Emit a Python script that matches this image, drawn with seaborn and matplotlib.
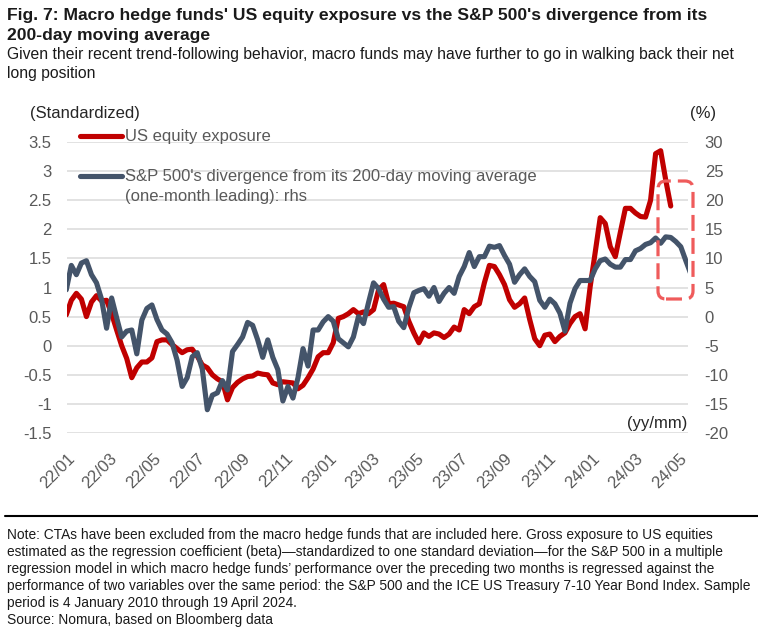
import numpy as np
import pandas as pd
import matplotlib
matplotlib.use("Agg")
import matplotlib.pyplot as plt
from matplotlib.patches import FancyBboxPatch
from matplotlib.lines import Line2D
from matplotlib.transforms import IdentityTransform
from matplotlib import font_manager as fm
import seaborn as sns

# ---------------- data ----------------
start_date = "2021-12-31"   # weekly observations (Fridays)

us_equity_exposure = [
    0.53, 0.78, 0.90, 0.80, 0.50, 0.75, 0.86, 0.77, 0.78, 0.55,
    0.27, 0.00, -0.22, -0.55, -0.38, -0.28, -0.28, -0.21, 0.07, 0.10,
    0.10, 0.02, -0.05, -0.12, -0.07, -0.06, -0.18, -0.33, -0.38, -0.50,
    -0.57, -0.62, -0.93, -0.72, -0.63, -0.57, -0.53, -0.52, -0.47, -0.49,
    -0.50, -0.64, -0.67, -0.62, -0.63, -0.64, -0.74, -0.68, -0.55, -0.40,
    -0.19, -0.12, -0.12, 0.05, 0.47, 0.50, 0.55, 0.62, 0.55, 0.58,
    0.55, 0.62, 0.96, 1.05, 0.72, 0.73, 0.70, 0.67, 0.42, 0.22,
    0.05, 0.22, 0.16, 0.22, 0.20, 0.14, 0.20, 0.32, 0.27, 0.62,
    0.55, 0.67, 0.72, 1.08, 1.38, 1.36, 1.22, 1.05, 0.79, 0.66,
    0.72, 0.82, 0.45, 0.12, 0.00, 0.18, 0.20, 0.07, 0.16, 0.22,
    0.38, 0.50, 0.55, 0.29, 1.01, 1.60, 2.20, 2.10, 1.70, 1.53,
    1.95, 2.36, 2.36, 2.28, 2.22, 2.21, 2.50, 3.30, 3.35, 2.85,
    2.40,
]

spx_divergence_pct = [
    4.6, 8.8, 7.2, 9.2, 9.6, 7.2, 5.8, 3.0, -2.0, 3.2,
    -0.2, -3.5, -2.5, -2.3, -6.4, -0.6, 1.4, 2.0, -0.5, -2.3,
    -3.0, -4.5, -7.5, -12.0, -10.5, -6.9, -6.2, -9.0, -16.0, -13.5,
    -13.1, -11.0, -12.6, -6.0, -4.8, -3.5, -1.0, -1.5, -4.0, -7.0,
    -4.0, -7.0, -9.1, -14.5, -12.0, -14.0, -10.5, -5.5, -8.5, -2.3,
    -2.3, -0.9, 0.0, -0.8, -3.8, -4.5, -5.2, -3.5, 0.0, -1.2,
    2.4, 5.8, 4.8, 3.0, 1.6, 1.7, -0.8, -1.9, 1.5, 4.1,
    4.5, 4.8, 3.5, 5.0, 2.6, 4.0, 5.0, 4.0, 6.9, 8.6,
    11.0, 8.6, 10.3, 10.3, 12.1, 11.9, 12.2, 10.5, 9.0, 5.9,
    7.2, 8.2, 6.9, 6.0, 2.8, 1.6, 3.0, 2.2, 0.6, -2.5,
    2.3, 4.8, 6.2, 6.2, 6.2, 8.2, 9.6, 9.9, 9.0, 8.5,
    8.5, 9.8, 9.8, 11.3, 11.7, 12.4, 12.7, 13.5, 12.6, 13.7,
    13.6, 12.9, 12.0, 9.6, 7.3,
]

tick_dates = ["2022-01-01", "2022-03-01", "2022-05-01", "2022-07-01", "2022-09-01",
              "2022-11-01", "2023-01-01", "2023-03-01", "2023-05-01", "2023-07-01",
              "2023-09-01", "2023-11-01", "2024-01-01", "2024-03-01", "2024-05-01"]
tick_labels = ["22/01", "22/03", "22/05", "22/07", "22/09", "22/11", "23/01", "23/03",
               "23/05", "23/07", "23/09", "23/11", "24/01", "24/03", "24/05"]

left_ticks = [-1.5, -1, -0.5, 0, 0.5, 1, 1.5, 2, 2.5, 3, 3.5]
left_labels = ["-1.5", "-1", "-0.5", "0", "0.5", "1", "1.5", "2", "2.5", "3", "3.5"]
right_ticks = [-20, -15, -10, -5, 0, 5, 10, 15, 20, 25, 30]
right_labels = ["-20", "-15", "-10", "-5", "0", "5", "10", "15", "20", "25", "30"]

series_names = ["US equity exposure",
                "S&P 500's divergence from its 200-day moving average"]
series_name_2b = "(one-month leading): rhs"

title_lines = ["Fig. 7: Macro hedge funds' US equity exposure vs the S&P 500's divergence from its",
               "200-day moving average"]
subtitle_lines = ["Given their recent trend-following behavior, macro funds may have further to go in walking back their net",
                  "long position"]
note_lines = [
    "Note: CTAs have been excluded from the macro hedge funds that are included here. Gross exposure to US equities",
    "estimated as the regression coefficient (beta)\u2014standardized to one standard deviation\u2014for the S&P 500 in a multiple",
    "regression model in which macro hedge funds\u2019 performance over the preceding two months is regressed against the",
    "performance of two variables over the same period: the S&P 500 and the ICE US Treasury 7-10 Year Bond Index. Sample",
    "period is 4 January 2010 through 19 April 2024.",
]
source_line = "Source: Nomura, based on Bloomberg data"

red_df = pd.DataFrame({"date": pd.date_range(start_date, periods=len(us_equity_exposure), freq="7D"),
                       "value": us_equity_exposure})
blue_df = pd.DataFrame({"date": pd.date_range(start_date, periods=len(spx_divergence_pct), freq="7D"),
                        "value": spx_divergence_pct})

# ---------------- style ----------------
RED = "#c00000"
BLUE = "#44546a"
GREY = "#595959"

sns.set_theme(style="white")
names = {f.name for f in fm.fontManager.ttflist}
NARROW = "Liberation Sans Narrow" if "Liberation Sans Narrow" in names else "Liberation Sans"
plt.rcParams["font.family"] = ["Liberation Sans", "DejaVu Sans"]

W, H = 758, 638
fig = plt.figure(figsize=(W / 100, H / 100), dpi=100)
fig.patch.set_facecolor("white")

L, R, T, B = 67, 688, 142, 433
ax = fig.add_axes([L / W, 1 - B / H, (R - L) / W, (B - T) / H])
ax2 = ax.twinx()

LW = 3.7
sns.lineplot(data=red_df, x="date", y="value", ax=ax, color=RED, linewidth=LW,
             estimator=None, sort=False, legend=False, solid_joinstyle="round")
sns.lineplot(data=blue_df, x="date", y="value", ax=ax2, color=BLUE, linewidth=LW,
             estimator=None, sort=False, legend=False, solid_joinstyle="round")

ax.set_xlim(pd.Timestamp("2022-01-01"), pd.Timestamp("2024-05-13"))
ax.set_ylim(-1.5, 3.5)
ax2.set_ylim(-20, 30)

for a in (ax, ax2):
    a.set_xlabel("")
    a.set_ylabel("")
    for s in a.spines.values():
        s.set_visible(False)
    a.set_facecolor("none")

ax.set_yticks(left_ticks)
ax.set_yticklabels(left_labels)
ax2.set_yticks(right_ticks)
ax2.set_yticklabels(right_labels)
ax.set_xticks(pd.to_datetime(tick_dates))
ax.set_xticklabels(tick_labels, rotation=45, ha="right", rotation_mode="anchor")

ax.tick_params(axis="y", length=0, pad=11, labelsize=12, labelcolor=GREY)
ax2.tick_params(axis="y", length=0, pad=12, labelsize=12, labelcolor=GREY)
ax.tick_params(axis="x", length=0, pad=13, labelsize=12, labelcolor=GREY)

ax.grid(axis="y", color="#e2e2e2", linewidth=1.4)
ax.grid(axis="x", visible=False)
ax2.grid(False)
ax.set_axisbelow(True)

# legend
handles = [Line2D([], [], color=RED, lw=LW), Line2D([], [], color=BLUE, lw=LW)]
leg = ax2.legend(handles, series_names, loc="upper left",
                 bbox_to_anchor=(80 / W, 1 - 129.5 / H), bbox_transform=fig.transFigure,
                 frameon=False, fontsize=12, labelcolor=GREY, borderpad=0, borderaxespad=0,
                 handlelength=2.5, handletextpad=0.2, labelspacing=1.5)
fig.text(125 / W, 1 - 196 / H, series_name_2b, fontsize=12, color=GREY, va="center", ha="left")

# axis unit labels
fig.text(30 / W, 1 - 118 / H, "(Standardized)", fontsize=12, color="#262626", va="baseline")
fig.text(690 / W, 1 - 118 / H, "(%)", fontsize=12, color="#262626", va="baseline")
fig.text(687 / W, 1 - 428 / H, "(yy/mm)", fontsize=12, color="#262626", va="baseline", ha="right")

# highlight box
box = FancyBboxPatch((658, H - 299), 35, 118, boxstyle="round,pad=0,rounding_size=8",
                     transform=IdentityTransform(), fill=False, edgecolor="#ef5b5b",
                     linewidth=2.3, linestyle=(0, (5, 2.2)))
fig.add_artist(box)

# title, subtitle, note
t_title = [fig.text(7 / W, 1 - y / H, s, fontsize=13, fontweight="bold", family=[NARROW, "DejaVu Sans"],
                    color="#1a1a1a", va="baseline") for s, y in zip(title_lines, [20, 40])]
t_sub = [fig.text(7 / W, 1 - y / H, s, fontsize=11.6, family=[NARROW, "DejaVu Sans"],
                  color="#1a1a1a", va="baseline") for s, y in zip(subtitle_lines, [59, 78])]
t_note = [fig.text(7 / W, 1 - y / H, s, fontsize=10.8, family=[NARROW, "DejaVu Sans"],
                   color="#1a1a1a", va="baseline") for s, y in zip(note_lines, [539, 556, 573, 590, 607])]
t_src = fig.text(7 / W, 1 - 624 / H, source_line, fontsize=10.8, family=[NARROW, "DejaVu Sans"],
                 color="#1a1a1a", va="baseline")

fig.add_artist(Line2D([5 / W, 1.0], [1 - 516 / H, 1 - 516 / H], transform=fig.transFigure,
                      color="black", lw=1.5))

# fit text widths to the reference
fig.canvas.draw()
rend = fig.canvas.get_renderer()
def fit(group, ref, target):
    w = ref.get_window_extent(renderer=rend).width
    s = target / w
    for t in group:
        t.set_fontsize(t.get_fontsize() * s)
fit(t_title, t_title[0], 698)
fit(t_sub, t_sub[0], 728)
fit(t_note + [t_src], t_note[3], 743)

fig.savefig("out.png", dpi=100, facecolor="white")
